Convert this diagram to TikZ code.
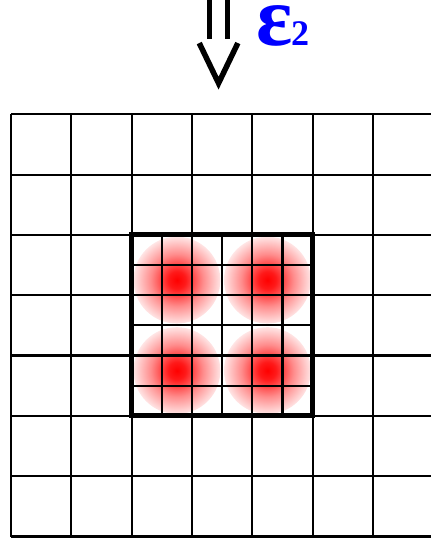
\documentclass[tikz,border=0pt]{standalone}
\usepackage{fontspec}
\newfontfamily\labelfont{Liberation Serif}
\pgfdeclareradialshading{spot}{\pgfpoint{0bp}{0bp}}{color(0bp)=(red); color(5bp)=(red!90); color(15bp)=(red!45); color(28bp)=(white); color(50bp)=(white)}
\begin{document}
\begin{tikzpicture}[scale=1.0]
\useasboundingbox (-0.183,-0.091) rectangle (6.960,8.894);
\foreach \x/\y in {2.75/4.25,4.25/4.25,2.75/2.75,4.25/2.75}
  \shade[shading=spot] (\x,\y) circle (0.72);
\draw[line width=1pt] (0,0) grid (7,7);
\draw[line width=1pt] (2,2) grid[step=0.5] (5,5);
\draw[line width=2.4pt] (2,2) rectangle (5,5);
\draw[line width=2.4pt] (3.29,9) -- (3.29,8.246);
\draw[line width=2.4pt] (3.59,9) -- (3.59,8.246);
\draw[line width=2.6pt] (3.12,8.18) -- (3.44,7.515) -- (3.76,8.18);
\node[anchor=base west, inner sep=0, text=blue, font=\labelfont\bfseries\fontsize{40}{40}\selectfont] (eps) at (4.07,8.146) {ε\kern-1pt\fontsize{17}{17}\selectfont 2};
\end{tikzpicture}
\end{document}
